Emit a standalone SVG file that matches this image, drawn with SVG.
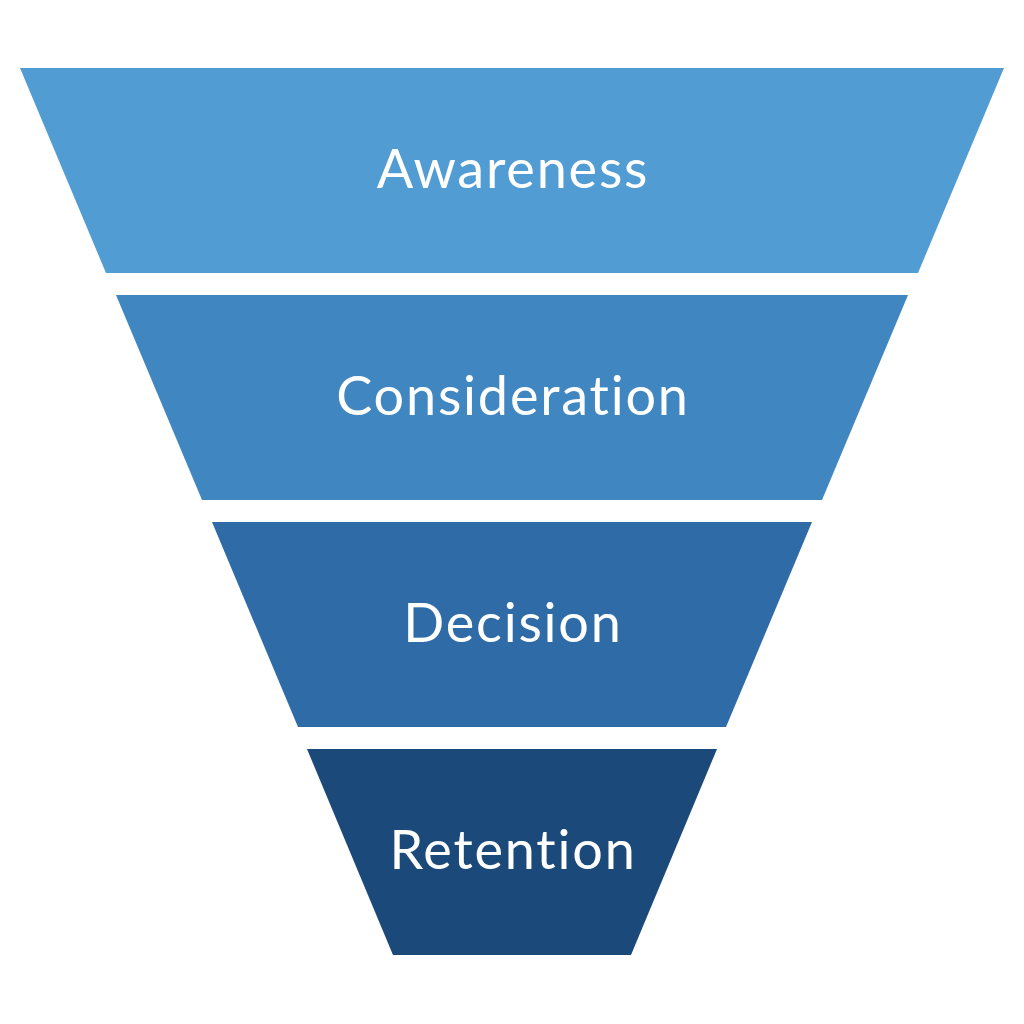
<svg xmlns="http://www.w3.org/2000/svg" width="1024" height="1024" viewBox="0 0 1024 1024">
<style>
.lbl{font-family:Lato,"Open Sans","Liberation Sans",sans-serif;font-size:54px;letter-spacing:1.8px;font-variant-ligatures:none;fill:#ffffff;text-anchor:middle;}
</style>
<rect width="1024" height="1024" fill="#ffffff"/>
<g id="awareness">
<polygon points="20,68 1004,68 918,273 106,273" fill="#519CD3"/>
<text class="lbl" x="513" y="188">Awareness</text>
</g>
<g id="consideration">
<polygon points="116,295 908,295 822,500 202,500" fill="#4086C0"/>
<text class="lbl" x="513" y="415">Consideration</text>
</g>
<g id="decision">
<polygon points="212,522 812,522 726,727 298,727" fill="#2E6BA7"/>
<text class="lbl" x="513" y="642">Decision</text>
</g>
<g id="retention">
<polygon points="307,749 717,749 631,955 393,955" fill="#1B4A7A"/>
<text class="lbl" x="513" y="869">Retention</text>
</g>
</svg>
